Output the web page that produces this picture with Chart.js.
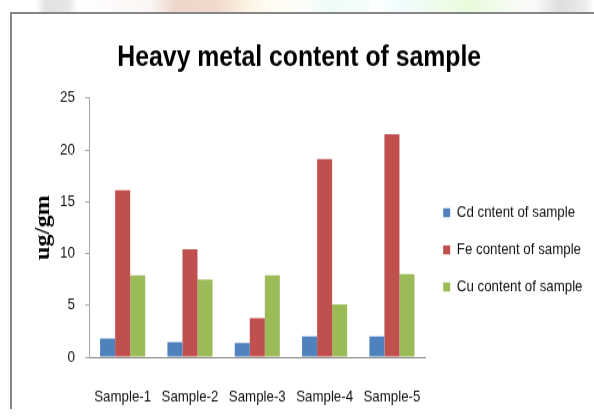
<!DOCTYPE html>
<html>
<head>
<meta charset="utf-8">
<script src="https://cdn.jsdelivr.net/npm/chart.js@4.4.1/dist/chart.umd.min.js"></script>
<style>
  html, body { margin: 0; padding: 0; background: #fff; }
  #wrap { position: relative; width: 594px; height: 417px; overflow: hidden; background: #fff; }
  #band {
    position: absolute; left: 0; top: 0; width: 594px; height: 12px;
    background: linear-gradient(90deg,
      #fff 0px, #fff 36px, #e2e2e2 45px, #e6e6e6 68px, #fff 78px,
      #fbf6f4 150px, #eed6cb 175px, #f0d8cc 215px, #fbf1e0 245px, #fffbf0 265px,
      #fdfefa 300px, #eefcf6 330px, #f4fefc 365px, #fdfffd 375px, #f0fcfe 400px,
      #eefdea 440px, #e8fbdc 470px, #f6fcf2 510px, #fafafa 535px, #dedede 560px,
      #ececec 585px, #fff 594px);
  }
  #frame {
    position: absolute; left: 10px; top: 12px; width: 600px; height: 395px;
    border-left: 2px solid #868686; border-top: 2px solid #868686;
  }
  /* the chart is laid out on a shorter canvas and stretched to full height,
     which gives the tall, narrow lettering of the original slide */
  #chartBox {
    position: absolute; left: 0; top: 0; width: 594px; height: 348px;
    transform: scaleY(1.1983); transform-origin: 0 0;
  }
</style>
</head>
<body>
<div id="wrap">
  <div id="band"></div>
  <div id="frame"></div>
  <div id="chartBox"><canvas id="chart"></canvas></div>
</div>
<script>
// Samples and measured heavy-metal contents (ug/gm)
const categories = ['Sample-1', 'Sample-2', 'Sample-3', 'Sample-4', 'Sample-5'];
const cdContent = [1.8, 1.45, 1.35, 2.0, 2.0];
const feContent = [16.1, 10.4, 3.75, 19.1, 21.5];
const cuContent = [7.9, 7.5, 7.9, 5.1, 8.0];
const seriesNames = ['Cd cntent of sample', 'Fe content of sample', 'Cu content of sample'];
const seriesColors = ['#4f81bd', '#c0504d', '#9bbb59'];
const yTicks = [0, 5, 10, 15, 20, 25];

const sans = '"Liberation Sans", Arial, sans-serif';
const serif = '"Liberation Serif", "Times New Roman", serif';

const datasets = [cdContent, feContent, cuContent].map((values, i) => ({
  label: seriesNames[i],
  data: values,
  backgroundColor: seriesColors[i],
  borderWidth: 0,
  categoryPercentage: 0.67,
  barPercentage: 1.0
}));

new Chart(document.getElementById('chart'), {
  type: 'bar',
  data: { labels: categories, datasets },
  options: {
    responsive: true,
    maintainAspectRatio: false,
    devicePixelRatio: 1,
    animation: false,
    layout: { padding: { left: 6, right: 1.5, top: 0, bottom: 0 } },
    plugins: {
      tooltip: { enabled: false },
      title: {
        display: true,
        text: 'Heavy metal content of sample',
        color: '#000',
        font: { family: sans, size: 24.8, weight: 'bold', lineHeight: 1.2 },
        padding: { top: 33, bottom: 19 }
      },
      legend: {
        position: 'right',
        align: 'center',
        maxWidth: 200,
        title: { display: true, text: '', font: { size: 10, lineHeight: 1.2 }, padding: { top: 57, bottom: 0 } },
        labels: {
          color: '#111',
          font: { family: sans, size: 13.3 },
          boxWidth: 7,
          boxHeight: 7.5,
          padding: 17.6
        }
      }
    },
    scales: {
      x: {
        afterFit: (scale) => { scale.height = 50; },
        grid: { display: false, drawTicks: false },
        border: { display: true, color: '#868686', width: 1 },
        ticks: { color: '#111', font: { family: sans, size: 13.3 }, padding: 25, maxRotation: 0, autoSkip: false }
      },
      y: {
        min: 0,
        max: 25,
        afterFit: (scale) => { scale.width = 83; },
        afterBuildTicks: (scale) => { scale.ticks = yTicks.map(v => ({ value: v })); },
        grid: { display: true, drawOnChartArea: false, drawTicks: true, tickLength: 4, color: '#a6a6a6' },
        border: { display: true, color: '#a6a6a6', width: 1 },
        ticks: { color: '#111', font: { family: sans, size: 13.5 }, padding: 10 },
        title: {
          display: true,
          text: 'ug/gm',
          color: '#000',
          font: { family: serif, size: 20.3, weight: 'bold', lineHeight: 1.2 },
          padding: { top: 26, bottom: 0 }
        }
      }
    }
  }
});
</script>
</body>
</html>
